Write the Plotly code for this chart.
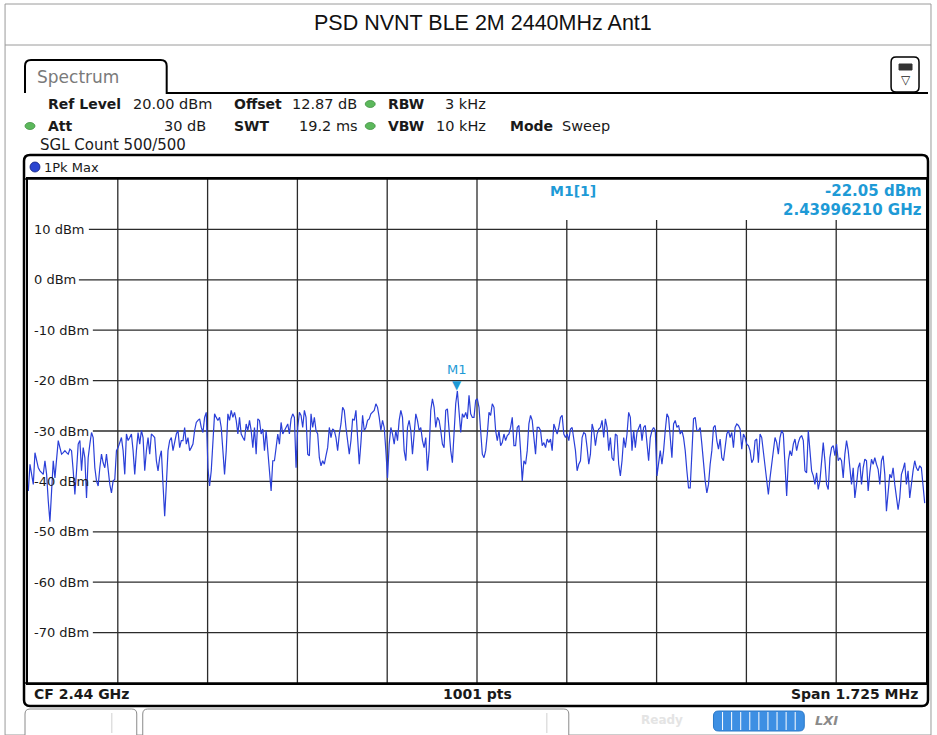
import numpy as np
import plotly.graph_objects as go

# ---------------- data ----------------
center_mhz = 2440.0
span_mhz = 1.725
ref_level_dbm = 20.0
y_bottom_dbm = -80.0
y_tick_levels = [10, 0, -10, -20, -30, -40, -50, -60, -70]
y_tick_labels = ["10 dBm", "0 dBm", "-10 dBm", "-20 dBm", "-30 dBm", "-40 dBm",
                 "-50 dBm", "-60 dBm", "-70 dBm"]

marker_freq_mhz = 2439.96210
marker_level_dbm = -22.05

trace_seg1 = [
    -41.9, -36.6, -38.6, -40.6, -34.3, -35.9, -37.3, -37.9, -38.3, -38.6,
    -35.9, -38.6, -43.9, -48.0, -41.9, -35.9, -39.3, -35.3, -31.9, -33.3,
    -34.6, -34.3, -33.9, -34.3, -34.6, -33.6, -33.9, -37.9, -42.6, -37.9,
    -32.6, -31.9, -37.9, -33.3, -35.3, -43.3, -35.3, -32.6, -30.3, -31.3,
    -37.3, -39.9, -40.9, -37.3, -34.6, -36.3, -37.3, -34.6, -37.9, -40.6,
    -42.3, -39.9, -39.6, -33.9, -33.3, -32.3, -31.3, -33.9, -38.6, -30.6,
    -31.9, -31.3, -30.6, -33.9, -38.6, -33.9, -30.3, -32.6, -29.9, -31.3,
    -37.9, -33.9, -31.3, -34.6, -30.6, -30.9, -31.3, -35.9, -37.9, -35.3,
    -33.9, -40.6, -46.9, -40.6, -33.9, -31.9, -31.3, -33.9, -31.9, -30.6,
    -29.9, -33.3, -31.9, -31.9, -29.3, -32.6, -31.3, -33.9, -33.3, -32.6,
    -29.9, -28.3, -27.9, -27.6, -29.3, -30.3, -27.3, -26.3, -37.3, -40.9,
    -37.9, -30.6, -26.6, -27.3, -27.9, -27.3, -29.3, -33.9, -38.6, -33.9,
    -26.6, -27.9, -25.9, -27.3, -26.3, -27.9, -30.6, -27.3, -30.6, -31.3,
    -31.9, -28.6, -29.9,
]
trace_seg2 = [
    -27.9, -29.9, -33.3, -29.3, -34.6, -27.6, -27.9, -30.6, -29.6, -33.9,
    -29.9, -33.9, -38.6, -41.9, -35.9, -35.9, -33.3, -30.6, -32.6, -28.3,
    -30.6, -29.9, -29.3, -28.6, -30.6, -27.6, -26.6, -27.3, -37.3, -29.3,
    -26.3, -26.9, -29.3, -25.9, -27.3, -34.6, -34.9, -26.6, -29.3, -27.3,
    -29.9, -30.6, -35.3, -36.9, -35.9, -36.6, -34.9, -33.3, -29.3, -31.3,
    -29.6, -29.9, -31.3, -33.9, -30.6, -28.6, -25.3, -25.9, -29.3, -31.9,
    -34.6, -31.9, -27.6, -27.9, -25.9, -31.3, -36.6, -32.3, -26.9, -29.9,
    -29.3, -27.9, -27.6, -26.6, -26.3, -25.9, -24.6, -25.3, -27.3, -29.9,
    -27.9, -29.3, -33.9, -39.3, -32.6, -29.3, -30.6, -32.6, -29.9, -31.9,
    -27.9, -25.9, -27.3, -33.9, -35.9, -29.3, -27.9, -29.9, -34.6, -30.6,
    -26.6, -27.9, -29.9, -29.3, -31.9, -33.3, -31.3, -37.9, -33.9, -25.9,
    -23.6, -25.3, -29.3, -27.3, -27.9, -29.9, -32.6, -33.3, -25.9, -25.6,
    -30.6, -33.9, -36.3, -30.6, -24.6, -22.05, -25.9, -30.3, -26.6, -27.3,
    -26.3, -27.6, -22.9, -26.6, -27.3,
]
trace_seg3 = [
    -27.3, -23.9, -23.6, -25.3, -30.6, -34.6, -35.3, -33.9, -30.6, -26.3,
    -26.9, -24.6, -25.3, -29.9, -31.9, -29.9, -32.9, -32.3, -30.6, -31.9,
    -30.9, -30.6, -29.3, -27.3, -32.9, -32.9, -29.3, -28.9, -33.9, -39.9,
    -35.9, -36.6, -33.9, -28.6, -26.9, -27.9, -31.3, -34.6, -29.3, -29.3,
    -29.9, -32.9, -32.3, -33.3, -31.6, -32.3, -31.6, -33.9, -28.6, -29.9,
    -30.6, -29.3, -27.3, -26.9, -30.6, -31.3, -30.6, -31.9, -29.6, -29.3,
    -31.9, -33.9, -37.9, -36.6, -35.9, -31.3, -30.3, -30.6, -33.3, -36.6,
    -34.6, -28.6, -29.9, -32.9, -30.6, -29.6, -29.3, -27.9, -31.3, -27.6,
    -29.3, -33.9, -31.3, -35.3, -35.9, -30.6, -30.9, -36.6, -38.9, -35.9,
    -31.3, -33.3, -30.6, -26.3, -27.3, -33.9, -29.9, -33.3, -30.3, -29.3,
    -28.6, -31.9, -29.3, -28.9, -33.3, -35.9, -31.3, -29.9, -29.3, -29.9,
    -38.9, -35.9, -33.9, -36.6, -33.9, -29.9, -26.6, -27.3, -30.6, -35.3,
    -28.6, -27.9, -29.3, -28.9, -30.6, -29.9, -31.3, -33.9, -37.9, -41.3,
    -41.3, -33.9, -27.6, -27.3, -29.9,
]
trace_seg4 = [
    -29.9, -29.3, -32.6, -36.6, -39.9, -42.3, -40.6, -36.6, -33.9, -29.3,
    -28.9, -31.9, -33.6, -31.6, -35.3, -35.9, -32.6, -30.6, -29.9, -31.3,
    -30.3, -33.3, -29.3, -28.6, -28.9, -29.6, -33.6, -30.6, -31.3, -32.6,
    -32.9, -33.9, -36.3, -35.6, -31.9, -31.6, -36.3, -30.6, -31.3, -33.9,
    -36.6, -39.9, -42.6, -39.3, -36.6, -34.6, -31.3, -32.3, -34.6, -31.3,
    -29.9, -30.6, -37.3, -42.9, -35.9, -33.9, -34.9, -32.6, -31.6, -33.9,
    -32.3, -31.3, -30.9, -31.9, -37.9, -38.3, -29.9, -33.9, -37.9, -38.9,
    -40.6, -38.3, -41.6, -39.9, -35.3, -32.3, -35.9, -40.6, -41.6, -35.3,
    -33.3, -32.9, -34.9, -32.6, -35.9, -35.3, -35.9, -39.3, -34.6, -31.9,
    -33.9, -37.9, -40.6, -37.3, -43.3, -40.6, -37.3, -36.3, -40.6, -37.3,
    -35.6, -35.9, -41.9, -38.3, -35.6, -36.6, -35.3, -36.6, -37.6, -40.6,
    -35.9, -34.9, -38.6, -45.9, -41.9, -38.6, -39.3, -37.3, -40.6, -43.3,
    -45.6, -43.3, -38.6, -37.6, -36.3, -40.6, -37.9, -43.3, -39.9, -37.9,
    -35.9, -37.3, -37.9, -36.9, -37.3, -40.6, -44.3,
]

level_dbm = np.array(trace_seg1 + trace_seg2 + trace_seg3 + trace_seg4)
f_start = center_mhz - span_mhz / 2
f_stop = center_mhz + span_mhz / 2
# analyzer sweep grid (evenly spaced frequency bins)
freq_mhz = np.linspace(f_start + 0.0006, f_stop - 0.0025, len(level_dbm))

# ---------------- layout helpers (pixel -> paper) ----------------
W, H = 937, 735
PL, PR, PT, PB = 28, 928, 179, 683


def X(px):
    return (px - PL) / (PR - PL)


def Y(py):
    return (PB - py) / (PB - PT)


def rrect_path(x0, y0, x1, y1, r):
    return (f"M {X(x0+r)},{Y(y0)} L {X(x1-r)},{Y(y0)} Q {X(x1)},{Y(y0)} {X(x1)},{Y(y0+r)} "
            f"L {X(x1)},{Y(y1-r)} Q {X(x1)},{Y(y1)} {X(x1-r)},{Y(y1)} "
            f"L {X(x0+r)},{Y(y1)} Q {X(x0)},{Y(y1)} {X(x0)},{Y(y1-r)} "
            f"L {X(x0)},{Y(y0+r)} Q {X(x0)},{Y(y0)} {X(x0+r)},{Y(y0)} Z")


UI_FONT = "DejaVu Sans"
TXT = "#1a1a1a"
MK_BLUE = "#1e9ad6"
GRID = "#2b2b2b"

fig = go.Figure()
fig.add_trace(go.Scatter(x=freq_mhz, y=level_dbm, mode="lines",
                         line=dict(color="#2a3fd8", width=1.2), hoverinfo="skip"))

shapes = []
annos = []


def text(x, y, s, size=14, bold=False, color=TXT, anchor="left", font=UI_FONT):
    annos.append(dict(xref="paper", yref="paper", x=X(x), y=Y(y),
                      text=(f"<b>{s}</b>" if bold else s), showarrow=False,
                      xanchor=anchor, yanchor="middle",
                      font=dict(family=font, size=size, color=color)))


def line(x0, y0, x1, y1, color="black", width=1.5, layer="above"):
    shapes.append(dict(type="line", xref="paper", yref="paper",
                       x0=X(x0), y0=Y(y0), x1=X(x1), y1=Y(y1),
                       line=dict(color=color, width=width), layer=layer))


def dot(cx, cy, rx, ry, fill, edge):
    shapes.append(dict(type="circle", xref="paper", yref="paper",
                       x0=X(cx - rx), x1=X(cx + rx), y0=Y(cy + ry), y1=Y(cy - ry),
                       fillcolor=fill, line=dict(color=edge, width=0.8), layer="above"))


# outer page frame + title
shapes.append(dict(type="rect", xref="paper", yref="paper", x0=X(5), x1=X(933),
                   y0=Y(735), y1=Y(4), line=dict(color="#9a9a9a", width=1), layer="below"))
line(5, 45, 933, 45, color="#9a9a9a", width=1)
text(484, 23, "PSD NVNT BLE 2M 2440MHz Ant1", size=21.5, color="#111", anchor="center",
     font="Liberation Sans")

# Spectrum tab
tab = (f"M {X(25)},{Y(93)} L {X(25)},{Y(66)} Q {X(25)},{Y(60)} {X(31)},{Y(60)} "
       f"L {X(161)},{Y(60)} Q {X(167)},{Y(60)} {X(167)},{Y(66)} L {X(167)},{Y(93)} L {X(930)},{Y(93)}")
shapes.append(dict(type="path", xref="paper", yref="paper", path=tab,
                   line=dict(color="black", width=2), layer="above"))
text(35, 77, "Spectrum", size=17, color="#7a7a7a")

# icon top right
shapes.append(dict(type="path", xref="paper", yref="paper", path=rrect_path(893, 57, 921, 92, 5),
                   fillcolor="white", line=dict(color="black", width=1.5), layer="above"))
shapes.append(dict(type="rect", xref="paper", yref="paper", x0=X(901), x1=X(914),
                   y0=Y(70), y1=Y(64), fillcolor="#333", line=dict(color="#333", width=1), layer="above"))
text(907.5, 80, "▽", size=12, color="#222", anchor="center")

# info rows
text(46, 104, "Ref Level", bold=True)
text(131, 104, "20.00 dBm", size=14.5)
text(232, 104, "Offset", bold=True)
text(291, 104, "12.87 dB", size=14.5)
dot(371, 104, 5, 3.5, "#5cb85c", "#3f8f3f")
text(387, 104, "RBW", bold=True)
text(444, 104, "3 kHz", size=14.5)

dot(30, 126, 5, 3.5, "#5cb85c", "#3f8f3f")
text(46, 126, "Att", bold=True)
text(208, 126, "30 dB", anchor="right", size=14.5)
text(232, 126, "SWT", bold=True)
text(298, 126, "19.2 ms", size=14.5)
dot(371, 126, 5, 3.5, "#5cb85c", "#3f8f3f")
text(387, 126, "VBW", bold=True)
text(435, 126, "10 kHz", size=14.5)
text(509, 126, "Mode", bold=True)
text(561, 126, "Sweep", size=14.5)
text(38, 145, "SGL Count 500/500", size=15)

# trace window
shapes.append(dict(type="path", xref="paper", yref="paper", path=rrect_path(24, 155, 930, 706, 6),
                   line=dict(color="black", width=2.5), layer="above"))
line(24, 179, 930, 179, width=1.5)
line(24, 683, 930, 683, width=1.5)
dot(35, 167, 5, 5, "#2a45d0", "#102080")
text(42, 167, "1Pk Max", size=13)

# grid: vertical division lines (top-right ones stop under the marker info block)
for i in range(1, 10):
    fx = f_start + i * span_mhz / 10
    top_px = 220 if i >= 6 else 179
    shapes.append(dict(type="line", xref="x", yref="paper", x0=fx, x1=fx,
                       y0=0, y1=Y(top_px), line=dict(color=GRID, width=1.3), layer="below"))

# y level labels inside plot, horizontal division lines start after each label
for lev, lab in zip(y_tick_levels, y_tick_labels):
    w = 65 if lab.startswith("-") else (61 if len(lab) == 6 else 51)
    shapes.append(dict(type="line", xref="paper", yref="y", x0=X(PL + w), x1=1,
                       y0=lev, y1=lev, line=dict(color=GRID, width=1.3), layer="below"))
    annos.append(dict(xref="paper", yref="y", x=X(32), y=lev, text=lab, showarrow=False,
                      xanchor="left", yanchor="middle",
                      font=dict(family=UI_FONT, size=13, color=TXT)))

# marker info block
text(574, 191, "M1[1]", size=14, bold=True, color=MK_BLUE, anchor="center")
text(926, 191, "-22.05 dBm", size=15, bold=True, color=MK_BLUE, anchor="right")
text(926, 210, "2.43996210 GHz", size=15, bold=True, color=MK_BLUE, anchor="right")

# marker M1 on the trace
annos.append(dict(xref="x", yref="y", x=marker_freq_mhz, y=marker_level_dbm, text="▼",
                  showarrow=False, yanchor="bottom", yshift=-3,
                  font=dict(family=UI_FONT, size=12, color=MK_BLUE)))
annos.append(dict(xref="x", yref="y", x=marker_freq_mhz, y=marker_level_dbm, text="M1",
                  showarrow=False, yanchor="bottom", yshift=12,
                  font=dict(family=UI_FONT, size=13, color=MK_BLUE)))

# bottom info
text(32, 694, "CF 2.44 GHz", size=14, bold=True)
text(478, 694, "1001 pts", size=14, bold=True, anchor="center")
text(922, 694, "Span 1.725 MHz", size=14, bold=True, anchor="right")

# status bar
shapes.append(dict(type="path", xref="paper", yref="paper", path=rrect_path(25, 709, 137, 740, 5),
                   fillcolor="white", line=dict(color="#8a8a8a", width=1), layer="above"))
line(112, 713, 112, 733, color="#d0d0d0", width=1)
shapes.append(dict(type="path", xref="paper", yref="paper", path=rrect_path(143, 709, 570, 740, 5),
                   fillcolor="white", line=dict(color="#8a8a8a", width=1), layer="above"))
line(548, 713, 548, 733, color="#d0d0d0", width=1)
text(640, 720, "Ready", size=12, color="#e4e4e4", bold=True)
shapes.append(dict(type="path", xref="paper", yref="paper", path=rrect_path(715, 711, 806, 731, 5),
                   fillcolor="#3d8fe3", line=dict(color="#2a78c8", width=1), layer="above"))
for k in range(1, 10):
    line(715 + k * 9.1, 712, 715 + k * 9.1, 730, color="white", width=1)
text(815, 720, "<i>LXI</i>", size=13, bold=True, color="#8a8a8a")

fig.update_layout(
    width=W, height=H,
    margin=dict(l=PL, r=W - PR, t=PT, b=H - PB),
    paper_bgcolor="white", plot_bgcolor="white",
    showlegend=False,
    shapes=shapes, annotations=annos,
    xaxis=dict(range=[f_start, f_stop], showgrid=False,
               showticklabels=False, ticks="", zeroline=False,
               showline=True, linecolor="black", linewidth=1.5, mirror=True),
    yaxis=dict(range=[y_bottom_dbm, ref_level_dbm], showgrid=False,
               showticklabels=False, ticks="", zeroline=False,
               showline=True, linecolor="black", linewidth=1.5, mirror=True),
)

fig.write_html("out.html", config={"displayModeBar": False},
               post_script="document.body.style.margin='0px';")
